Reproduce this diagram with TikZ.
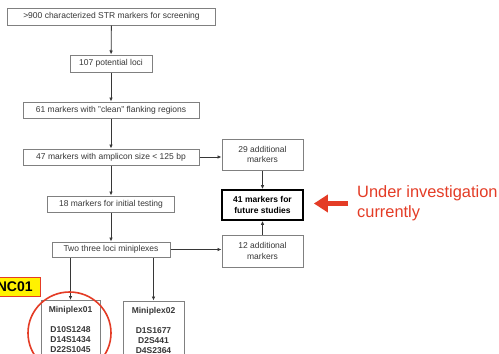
\documentclass[tikz,border=0pt]{standalone}
\usepackage{fontspec}
\setmainfont{Liberation Sans}
\usetikzlibrary{positioning, calc, arrows.meta}
\definecolor{notered}{RGB}{228,60,38}
\definecolor{boxgray}{RGB}{128,128,128}
\definecolor{inkgray}{RGB}{55,55,55}

\begin{document}
\begin{tikzpicture}[x=1pt, y=-1pt,
    flowbox/.style={draw=boxgray, line width=1pt, fill=white, text=inkgray, inner sep=0pt,
        align=center, font=\fontsize{8.5}{10.5}\selectfont},
    keybox/.style={draw=black, line width=1.8pt, fill=white, text=black, inner sep=0pt,
        align=center, font=\bfseries\fontsize{8.5}{10.5}\selectfont},
    plexbox/.style={draw=boxgray, line width=1pt, fill=white, text=inkgray, anchor=north,
        minimum height=58pt, align=center, font=\bfseries\fontsize{8.5}{10}\selectfont},
    flow/.style={draw=inkgray, line width=0.8pt, -{Latex[length=4pt,width=3.6pt]}}]
    \fill[white] (0,0) rectangle (499,354);
    \useasboundingbox (0,0) rectangle (499,354);
    \clip (0,0) rectangle (499,354);

    % main column
    \node (Screening) [flowbox, minimum width=208pt, minimum height=17pt] at (111.5,16.5)
        {>900 characterized STR markers for screening};
    \node (Loci) [flowbox, minimum width=82pt, minimum height=17pt] at (111,63.5)
        {107 potential loci};
    \node (Clean) [flowbox, minimum width=176pt, minimum height=16pt] at (111,110)
        {61 markers with "clean" flanking regions};
    \node (Amplicon) [flowbox, minimum width=176pt, minimum height=16pt] at (111,157)
        {47 markers with amplicon size < 125 bp};
    \node (Testing) [flowbox, minimum width=127pt, minimum height=16pt] at (111,204)
        {18 markers for initial testing};
    \node (Miniplexes) [flowbox, minimum width=118pt, minimum height=15pt] at (111,249.5)
        {Two three loci miniplexes};

    % right column
    \node (AddA) [flowbox, minimum width=81pt, minimum height=31pt] at (262.5,154.5)
        {29 additional\\markers};
    \node (Future) [keybox, minimum width=81pt, minimum height=30pt] at (262.5,205)
        {41 markers for\\future studies};
    \node (AddB) [flowbox, minimum width=81pt, minimum height=32pt] at (262.5,251)
        {12 additional\\markers};

    % miniplex boxes, cut by the lower edge
    \node (PlexOne) [plexbox, minimum width=59pt] at (70.5,300)
        {Miniplex01\\ \\D10S1248\\D14S1434\\D22S1045};
    \node (PlexTwo) [plexbox, minimum width=61pt] at (153.5,300.5)
        {Miniplex02\\ \\D1S1677\\D2S441\\D4S2364};

    \draw[flow] (Screening) -- (Loci);
    \draw[flow] (Loci) -- (Clean);
    \draw[flow] (Clean) -- (Amplicon);
    \draw[flow] (Amplicon) -- (Testing);
    \draw[flow] (Testing) -- (Miniplexes);
    \draw[flow] (Amplicon.east) -- (Amplicon.east -| AddA.west);
    \draw[flow] (Miniplexes.east) -- (Miniplexes.east -| AddB.west);
    \draw[flow] (AddA) -- (Future);
    \draw[flow] (AddB) -- (Future);
    \draw[flow] (Miniplexes.south -| PlexOne.north) -- (PlexOne.north);
    \draw[flow] (Miniplexes.south -| PlexTwo.north) -- (PlexTwo.north);

    % highlight
    \node (Tag) [fill=yellow, draw=notered, line width=0.8pt, anchor=east, inner xsep=8pt,
        minimum height=19pt, font=\bfseries\fontsize{14}{16}\selectfont] at (41,286.5) {NC01};
    \draw[notered, line width=1.6pt] (69.5,333) ellipse (41.5pt and 41pt);
    \node (Note) [anchor=west, inner sep=0pt, align=left, text=notered,
        font=\fontsize{16.4}{19.5}\selectfont] at (357,203.5) {Under investigation\\currently};
    \draw[notered, line width=5pt, -{Triangle[length=14pt,width=17pt]},
        shorten <=9pt, shorten >=10pt] (Note.west) -- (Future.east |- Note.west);
\end{tikzpicture}
\end{document}
